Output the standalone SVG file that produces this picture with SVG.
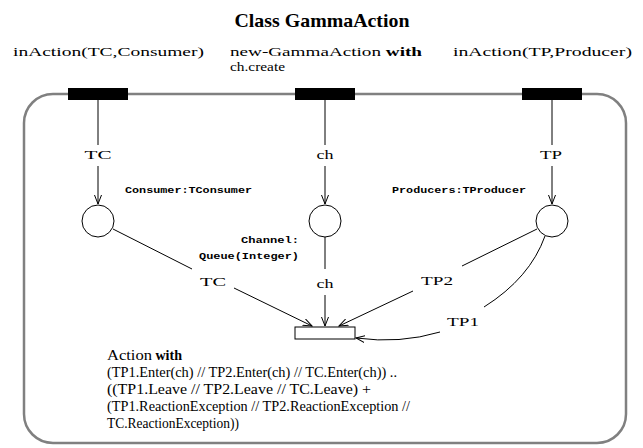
<svg xmlns="http://www.w3.org/2000/svg" width="643" height="448" viewBox="0 0 643 448">
<style>
.t{font-family:"Liberation Serif","DejaVu Serif",serif;font-size:13px;fill:#000}
.a{font-size:14px}
.b{font-weight:bold}
.m{font-family:"Liberation Mono","DejaVu Sans Mono",monospace;font-size:9px;font-weight:bold;fill:#000}
.c{fill:none;stroke:#000;stroke-width:1}
.bar{fill:#000}
.pl{fill:#fff;stroke:#000;stroke-width:1}
</style>
<defs>
<marker id="ar" markerWidth="10" markerHeight="8" refX="9" refY="4" orient="auto" markerUnits="userSpaceOnUse">
<path d="M0,0.5 L9,4 L0,7.5" fill="none" stroke="#000" stroke-width="1"/>
</marker>
</defs>
<rect width="643" height="448" fill="#fff"/>
<text x="322" y="27" text-anchor="middle" class="t b" style="font-size:19px" textLength="175" lengthAdjust="spacingAndGlyphs">Class GammaAction</text>
<rect id="frame" x="24" y="94" width="602" height="349" rx="29" ry="29" fill="none" stroke="#808080" stroke-width="2.5"/>
<g id="t-consumer">
<rect class="bar" x="68" y="88" width="60" height="12"/>
<text class="t" x="13" y="56" textLength="191" lengthAdjust="spacingAndGlyphs">inAction(TC,Consumer)</text>
</g>
<g id="t-create">
<rect class="bar" x="295" y="88" width="60" height="12"/>
<text class="t" x="230" y="56" textLength="192" lengthAdjust="spacingAndGlyphs">new-GammaAction <tspan class="b">with</tspan></text>
<text class="t" x="230" y="71" textLength="55" lengthAdjust="spacingAndGlyphs">ch.create</text>
</g>
<g id="t-producer">
<rect class="bar" x="522" y="88" width="60" height="12"/>
<text class="t" x="453" y="56" textLength="179" lengthAdjust="spacingAndGlyphs">inAction(TP,Producer)</text>
</g>
<g id="p-consumer">
<circle class="pl" cx="98" cy="221" r="16"/>
<text class="m" x="125" y="193" textLength="127" lengthAdjust="spacingAndGlyphs">Consumer:TConsumer</text>
</g>
<g id="p-channel">
<circle class="pl" cx="325" cy="221" r="16"/>
<text class="m" x="299" y="243" text-anchor="end" textLength="58" lengthAdjust="spacingAndGlyphs">Channel:</text>
<text class="m" x="299" y="259" text-anchor="end" textLength="100" lengthAdjust="spacingAndGlyphs">Queue(Integer)</text>
</g>
<g id="p-producer">
<circle class="pl" cx="552" cy="221" r="16"/>
<text class="m" x="392" y="193" textLength="134" lengthAdjust="spacingAndGlyphs">Producers:TProducer</text>
</g>
<g id="t-action">
<rect class="pl" x="295" y="327" width="60" height="12"/>
<text class="t a" x="107" y="360"><tspan textLength="45" lengthAdjust="spacingAndGlyphs">Action</tspan> <tspan class="b">with</tspan></text>
<text class="t a" x="107" y="377" textLength="290" lengthAdjust="spacingAndGlyphs">(TP1.Enter(ch) // TP2.Enter(ch) // TC.Enter(ch)) ..</text>
<text class="t a" x="107" y="394" textLength="264" lengthAdjust="spacingAndGlyphs">((TP1.Leave // TP2.Leave // TC.Leave) +</text>
<text class="t a" x="107" y="411" textLength="303" lengthAdjust="spacingAndGlyphs">(TP1.ReactionException // TP2.ReactionException //</text>
<text class="t a" x="107" y="428" textLength="132" lengthAdjust="spacingAndGlyphs">TC.ReactionException))</text>
</g>
<g id="connectors">
<path class="c" d="M98,100 V145"/>
<path class="c" d="M98,166 V204" marker-end="url(#ar)"/>
<text class="t" x="98" y="159" text-anchor="middle" textLength="27" lengthAdjust="spacingAndGlyphs">TC</text>
<path class="c" d="M325,100 V145"/>
<path class="c" d="M325,166 V204" marker-end="url(#ar)"/>
<text class="t" x="325" y="159" text-anchor="middle" textLength="17" lengthAdjust="spacingAndGlyphs">ch</text>
<path class="c" d="M552,100 V145"/>
<path class="c" d="M552,166 V204" marker-end="url(#ar)"/>
<text class="t" x="551" y="159" text-anchor="middle" textLength="22" lengthAdjust="spacingAndGlyphs">TP</text>
<path class="c" d="M113,229 L192,269"/>
<path class="c" d="M234,288 L312,326" marker-end="url(#ar)"/>
<text class="t" x="213" y="286" text-anchor="middle" textLength="26" lengthAdjust="spacingAndGlyphs">TC</text>
<path class="c" d="M325,237 V269"/>
<path class="c" d="M325,295 V326" marker-end="url(#ar)"/>
<text class="t" x="325" y="288" text-anchor="middle" textLength="17" lengthAdjust="spacingAndGlyphs">ch</text>
<path class="c" d="M537,229 L462,266"/>
<path class="c" d="M413,291 L339,326" marker-end="url(#ar)"/>
<text class="t" x="437" y="285" text-anchor="middle" textLength="32" lengthAdjust="spacingAndGlyphs">TP2</text>
<path class="c" d="M545,236 Q530,278 484,307"/>
<path class="c" d="M440,332 Q400,344 356,338" marker-end="url(#ar)"/>
<text class="t" x="463" y="326" text-anchor="middle" textLength="32" lengthAdjust="spacingAndGlyphs">TP1</text>
</g>
</svg>
